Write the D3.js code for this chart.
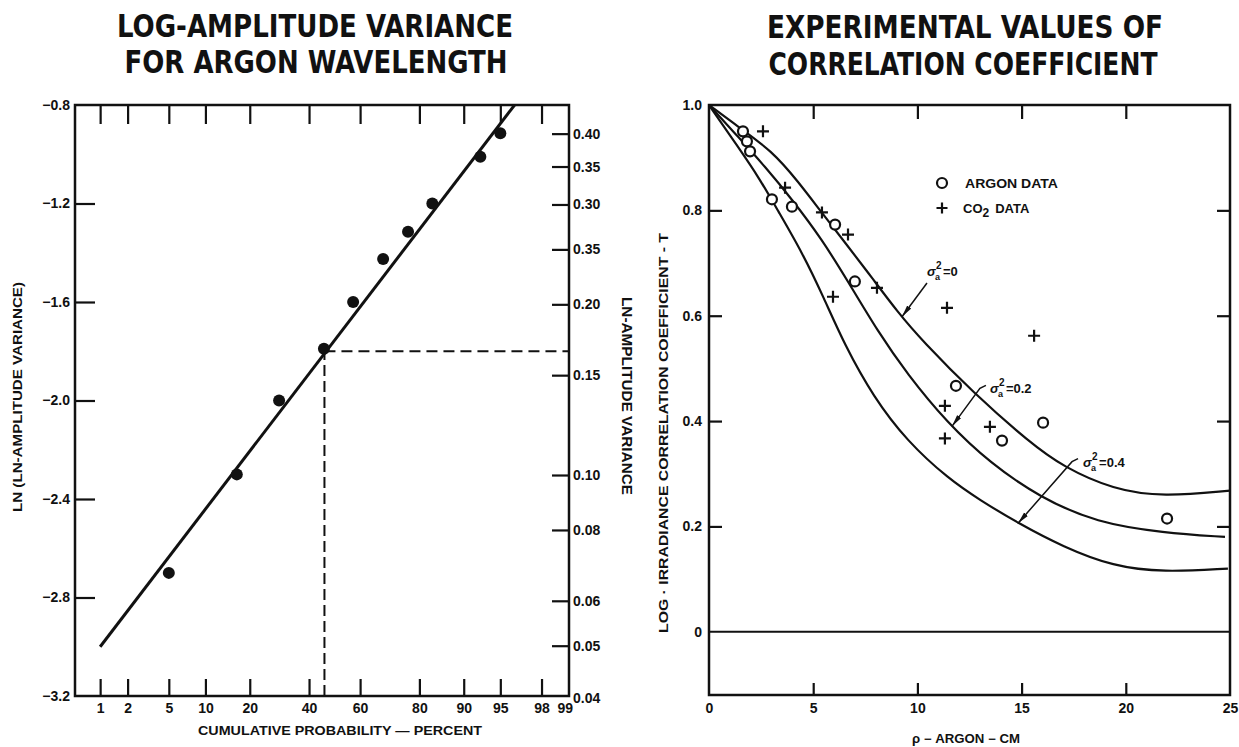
<!DOCTYPE html>
<html>
<head>
<meta charset="utf-8">
<script src="https://cdn.jsdelivr.net/npm/d3@7"></script>
<style>
  body { margin: 0; background: #fff; }
  svg { display: block; font-family: "Liberation Sans", "DejaVu Sans", sans-serif; }
  .tick text { font-weight: bold; fill: #111; }
  .title { font-family: "Liberation Sans Narrow", "DejaVu Sans Condensed", sans-serif; font-weight: bold; font-stretch: condensed; fill: #111; }
  .lab { font-weight: bold; fill: #111; }
</style>
</head>
<body>
<svg id="chart" width="1239" height="747"></svg>
<script>
// ---- left panel: log-amplitude variance vs cumulative probability ----
const probTicks = [1, 2, 5, 10, 20, 40, 60, 80, 90, 95, 98, 99];
const lnTicks = [-0.8, -1.2, -1.6, -2.0, -2.4, -2.8, -3.2];
const varTicks = [0.40, 0.35, 0.30, 0.25, 0.20, 0.15, 0.10, 0.08, 0.06, 0.05, 0.04];
const varLabels = ['0.40', '0.35', '0.30', '0.35', '0.20', '0.15', '0.10', '0.08', '0.06', '0.05', '0.04'];
const argonProb = [5, 16.6, 29.1, 45.8, 57.3, 68.5, 76.7, 83.4, 92.6, 95.0];
const argonLnVar = [-2.70, -2.30, -2.00, -1.79, -1.60, -1.425, -1.315, -1.20, -1.01, -0.915];
const fitProb = [1, 96.3];
const fitLnVar = [-3.0, -0.8];
const medianProb = 46;
const medianLnVar = -1.8;

// ---- right panel: correlation coefficient vs separation ----
const rhoTicks = [0, 5, 10, 15, 20, 25];
const corrTicks = [1.0, 0.8, 0.6, 0.4, 0.2, 0];
const corrLabels = ['1.0', '0.8', '0.6', '0.4', '0.2', '0'];
const sig0Rho = [0, 1.39, 3.02, 4.27, 5.42, 6.53, 7.82, 9.07, 10.22, 12.67, 15.4, 17.0, 19.4, 21.8, 25];
const sig0T = [1.0, 0.959, 0.913, 0.855, 0.795, 0.739, 0.672, 0.606, 0.553, 0.454, 0.359, 0.313, 0.270, 0.256, 0.268];
const sig02Rho = [0, 1.39, 2.69, 3.98, 5.42, 6.67, 8.1, 9.5, 11.42, 13.5, 15.88, 18.6, 21.8, 24.76];
const sig02T = [1.0, 0.94, 0.883, 0.821, 0.745, 0.665, 0.57, 0.49, 0.397, 0.32, 0.255, 0.207, 0.188, 0.180];
const sig04Rho = [0, 1.4, 2.4, 3.3, 4.5, 5.5, 6.5, 7.9, 9.5, 11.5, 13.0, 14.8, 17.0, 19.4, 21.8, 24.9];
const sig04T = [1.0, 0.92, 0.862, 0.80, 0.718, 0.635, 0.545, 0.445, 0.362, 0.29, 0.25, 0.207, 0.161, 0.124, 0.113, 0.12];
const argonRho = [1.63, 1.82, 1.97, 3.02, 3.98, 6.05, 7.0, 11.85, 14.06, 16.03, 21.98];
const argonT = [0.950, 0.931, 0.912, 0.821, 0.807, 0.773, 0.665, 0.467, 0.363, 0.397, 0.215];
const co2Rho = [2.59, 3.65, 5.42, 6.67, 8.06, 5.95, 11.42, 15.6, 11.32, 13.48, 11.32];
const co2T = [0.950, 0.843, 0.796, 0.754, 0.653, 0.636, 0.615, 0.562, 0.429, 0.389, 0.367];
const sigLabels = ['=0', '=0.2', '=0.4'];
const sigTextRho = [10.46, 13.48, 17.95];
const sigTextT = [0.676, 0.454, 0.313];
const sigFromRho = [10.46, 13.0, 17.42];
const sigFromT = [0.662, 0.462, 0.323];
const sigToRho = [9.26, 11.66, 14.83];
const sigToT = [0.598, 0.39, 0.206];

function probit(p) {
  const a = [-3.969683028665376e+01, 2.209460984245205e+02, -2.759285104469687e+02, 1.383577518672690e+02, -3.066479806614716e+01, 2.506628277459239e+00];
  const b = [-5.447609879822406e+01, 1.615858368580409e+02, -1.556989798598866e+02, 6.680131188771972e+01, -1.328068155288572e+01];
  const c = [-7.784894002430293e-03, -3.223964580411365e-01, -2.400758277161838e+00, -2.549732539343734e+00, 4.374664141464968e+00, 2.938163982698783e+00];
  const d = [7.784695709041462e-03, 3.224671290700398e-01, 2.445134137142996e+00, 3.754408661907416e+00];
  const pl = 0.02425;
  let q, r;
  if (p < pl) {
    q = Math.sqrt(-2 * Math.log(p));
    return (((((c[0] * q + c[1]) * q + c[2]) * q + c[3]) * q + c[4]) * q + c[5]) / ((((d[0] * q + d[1]) * q + d[2]) * q + d[3]) * q + 1);
  }
  if (p > 1 - pl) {
    q = Math.sqrt(-2 * Math.log(1 - p));
    return -(((((c[0] * q + c[1]) * q + c[2]) * q + c[3]) * q + c[4]) * q + c[5]) / ((((d[0] * q + d[1]) * q + d[2]) * q + d[3]) * q + 1);
  }
  q = p - 0.5;
  r = q * q;
  return (((((a[0] * r + a[1]) * r + a[2]) * r + a[3]) * r + a[4]) * r + a[5]) * q / (((((b[0] * r + b[1]) * r + b[2]) * r + b[3]) * r + b[4]) * r + 1);
}

const ink = '#111';
const svg = d3.select('#chart');

// ================= LEFT PANEL =================
const mL = { left: 75, right: 569, top: 105, bottom: 696 };
const zScale = d3.scaleLinear().domain([probit(0.005), probit(0.99)]).range([mL.left, mL.right]);
const xL = p => zScale(probit(p / 100));
const yL = d3.scaleLinear().domain([-3.2, -0.8]).range([mL.bottom, mL.top]);

const left = svg.append('g');

left.append('text').attr('class', 'title').attr('x', 315).attr('y', 37)
  .attr('text-anchor', 'middle').attr('font-size', 32)
  .attr('textLength', 396).attr('lengthAdjust', 'spacingAndGlyphs')
  .text('LOG-AMPLITUDE VARIANCE');
left.append('text').attr('class', 'title').attr('x', 316).attr('y', 73)
  .attr('text-anchor', 'middle').attr('font-size', 32)
  .attr('textLength', 383).attr('lengthAdjust', 'spacingAndGlyphs')
  .text('FOR ARGON WAVELENGTH');

const zTicks = probTicks.map(p => probit(p / 100));

const xAxisL = left.append('g').attr('transform', `translate(0, ${mL.bottom})`)
  .call(d3.axisBottom(zScale).tickValues(zTicks).tickFormat((d, i) => probTicks[i])
    .tickSizeInner(-17).tickSizeOuter(0).tickPadding(7));
const xAxisLTop = left.append('g').attr('transform', `translate(0, ${mL.top})`)
  .call(d3.axisTop(zScale).tickValues(zTicks.slice(0, -1)).tickFormat('')
    .tickSizeInner(-19).tickSizeOuter(0));
const yAxisL = left.append('g').attr('transform', `translate(${mL.left}, 0)`)
  .call(d3.axisLeft(yL).tickValues(lnTicks).tickFormat(d3.format('.1f'))
    .tickSizeInner(-20).tickSizeOuter(0).tickPadding(5));
const yAxisLRight = left.append('g').attr('transform', `translate(${mL.right}, 0)`)
  .call(d3.axisRight(yL).tickValues(varTicks.map(v => Math.log(v))).tickFormat((d, i) => varLabels[i])
    .tickSizeInner(-17).tickSizeOuter(0).tickPadding(4));

[xAxisL, xAxisLTop, yAxisL, yAxisLRight].forEach(g => {
  g.select('.domain').remove();
  g.selectAll('.tick line').attr('stroke', ink).attr('stroke-width', 2.2);
  g.selectAll('.tick text').attr('font-size', 14);
});
// corner ticks sit on the frame
yAxisL.selectAll('.tick line').filter(d => d === -0.8 || d === -3.2).remove();
yAxisLRight.selectAll('.tick line').filter((d, i) => i === varTicks.length - 1).remove();
yAxisLRight.selectAll('.tick text').filter((d, i) => i === varTicks.length - 1).attr('dy', '0.1em');
xAxisL.selectAll('.tick line').filter((d, i) => i === probTicks.length - 1).remove();
xAxisL.selectAll('.tick text').filter((d, i) => i === probTicks.length - 1).attr('dx', '-0.3em');

left.append('rect').attr('x', mL.left).attr('y', mL.top)
  .attr('width', mL.right - mL.left).attr('height', mL.bottom - mL.top)
  .attr('fill', 'none').attr('stroke', ink).attr('stroke-width', 2.5);

// median guide lines
left.append('path')
  .attr('d', `M${xL(medianProb)},${yL(-3.2)}V${yL(medianLnVar)}`)
  .attr('fill', 'none').attr('stroke', ink).attr('stroke-width', 2).attr('stroke-dasharray', '11,5');
left.append('path')
  .attr('d', `M${xL(medianProb)},${yL(medianLnVar)}H${mL.right}`)
  .attr('fill', 'none').attr('stroke', ink).attr('stroke-width', 2).attr('stroke-dasharray', '11,6');

// fitted line
const fitLine = d3.line().x(d => xL(d[0])).y(d => yL(d[1]));
left.append('path').datum(d3.zip(fitProb, fitLnVar))
  .attr('d', fitLine).attr('fill', 'none').attr('stroke', ink).attr('stroke-width', 3);

left.selectAll('circle.pt').data(d3.zip(argonProb, argonLnVar)).enter()
  .append('circle').attr('class', 'pt')
  .attr('cx', d => xL(d[0])).attr('cy', d => yL(d[1])).attr('r', 6)
  .attr('fill', ink);

left.append('text').attr('class', 'lab').attr('x', 340).attr('y', 735)
  .attr('text-anchor', 'middle').attr('font-size', 13)
  .attr('textLength', 284).attr('lengthAdjust', 'spacingAndGlyphs')
  .text('CUMULATIVE PROBABILITY \u2014 PERCENT');
left.append('text').attr('class', 'lab').attr('transform', 'translate(22, 397) rotate(-90)')
  .attr('text-anchor', 'middle').attr('font-size', 13)
  .attr('textLength', 230).attr('lengthAdjust', 'spacingAndGlyphs')
  .text('LN (LN-AMPLITUDE VARIANCE)');
left.append('text').attr('class', 'lab').attr('transform', 'translate(622, 396) rotate(90)')
  .attr('text-anchor', 'middle').attr('font-size', 14)
  .attr('textLength', 198).attr('lengthAdjust', 'spacingAndGlyphs')
  .text('LN-AMPLITUDE VARIANCE');

// ================= RIGHT PANEL =================
const mR = { left: 709, right: 1230, top: 105, bottom: 695 };
const xR = d3.scaleLinear().domain([0, 25]).range([mR.left, mR.right]);
const yR = d3.scaleLinear().domain([-0.12, 1.0]).range([mR.bottom, mR.top]);

const right = svg.append('g');

right.append('text').attr('class', 'title').attr('x', 965).attr('y', 38)
  .attr('text-anchor', 'middle').attr('font-size', 32)
  .attr('textLength', 396).attr('lengthAdjust', 'spacingAndGlyphs')
  .text('EXPERIMENTAL VALUES OF');
right.append('text').attr('class', 'title').attr('x', 963).attr('y', 75)
  .attr('text-anchor', 'middle').attr('font-size', 32)
  .attr('textLength', 389).attr('lengthAdjust', 'spacingAndGlyphs')
  .text('CORRELATION COEFFICIENT');

const innerRho = rhoTicks.slice(1, -1);
const innerCorr = corrTicks.slice(1, -1);
const xAxisR = right.append('g').attr('transform', `translate(0, ${mR.bottom})`)
  .call(d3.axisBottom(xR).tickValues(rhoTicks).tickFormat(d3.format('d'))
    .tickSizeInner(-12).tickSizeOuter(0).tickPadding(8));
const xAxisRTop = right.append('g').attr('transform', `translate(0, ${mR.top})`)
  .call(d3.axisTop(xR).tickValues(innerRho).tickFormat('').tickSizeInner(-14).tickSizeOuter(0));
const yAxisR = right.append('g').attr('transform', `translate(${mR.left}, 0)`)
  .call(d3.axisLeft(yR).tickValues(corrTicks).tickFormat((d, i) => corrLabels[i])
    .tickSizeInner(-13).tickSizeOuter(0).tickPadding(7));
const yAxisRRight = right.append('g').attr('transform', `translate(${mR.right}, 0)`)
  .call(d3.axisRight(yR).tickValues(innerCorr).tickFormat('').tickSizeInner(-13).tickSizeOuter(0));

[xAxisR, xAxisRTop, yAxisR, yAxisRRight].forEach(g => {
  g.select('.domain').remove();
  g.selectAll('.tick line').attr('stroke', ink).attr('stroke-width', 2.2);
  g.selectAll('.tick text').attr('font-size', 14);
});
xAxisR.selectAll('.tick line').filter(d => d === 0 || d === 25).remove();
yAxisR.selectAll('.tick line').filter(d => d === 0 || d === 1).remove();

right.append('rect').attr('x', mR.left).attr('y', mR.top)
  .attr('width', mR.right - mR.left).attr('height', mR.bottom - mR.top)
  .attr('fill', 'none').attr('stroke', ink).attr('stroke-width', 2.5);

// zero line
right.append('line').attr('x1', mR.left).attr('x2', mR.right)
  .attr('y1', yR(0)).attr('y2', yR(0)).attr('stroke', ink).attr('stroke-width', 2);

const curve = d3.line().x(d => xR(d[0])).y(d => yR(d[1])).curve(d3.curveBasis);
[[sig0Rho, sig0T], [sig02Rho, sig02T], [sig04Rho, sig04T]].forEach(([xs, ys]) => {
  right.append('path').datum(d3.zip(xs, ys))
    .attr('d', curve).attr('fill', 'none').attr('stroke', ink).attr('stroke-width', 2.2);
});

right.selectAll('circle.ar').data(d3.zip(argonRho, argonT)).enter()
  .append('circle').attr('class', 'ar')
  .attr('cx', d => xR(d[0])).attr('cy', d => yR(d[1])).attr('r', 5)
  .attr('fill', '#fff').attr('stroke', ink).attr('stroke-width', 2.2);

const plus = (x, y, s) => `M${x - s},${y}H${x + s}M${x},${y - s}V${y + s}`;
right.selectAll('path.co2').data(d3.zip(co2Rho, co2T)).enter()
  .append('path').attr('class', 'co2')
  .attr('d', d => plus(xR(d[0]), yR(d[1]), 6))
  .attr('stroke', ink).attr('stroke-width', 2.2);

// legend
right.append('circle').attr('cx', 942).attr('cy', 183).attr('r', 5)
  .attr('fill', '#fff').attr('stroke', ink).attr('stroke-width', 2.2);
right.append('text').attr('class', 'lab').attr('x', 965).attr('y', 188)
  .attr('font-size', 13).attr('textLength', 93).attr('lengthAdjust', 'spacingAndGlyphs')
  .text('ARGON DATA');
right.append('path').attr('d', plus(942, 208, 5.5)).attr('stroke', ink).attr('stroke-width', 2.2);
const co2 = right.append('text').attr('class', 'lab').attr('x', 963).attr('y', 213).attr('font-size', 13);
co2.append('tspan').text('CO');
co2.append('tspan').attr('dy', 4).attr('font-size', 12).text('2');
co2.append('tspan').attr('dy', -4).attr('dx', 6).text('DATA');

// sigma annotations with leader arrows
const defs = svg.append('defs');
defs.append('marker').attr('id', 'dart').attr('viewBox', '0 0 12 6')
  .attr('refX', 12).attr('refY', 3).attr('markerWidth', 12).attr('markerHeight', 6)
  .attr('markerUnits', 'userSpaceOnUse').attr('orient', 'auto')
  .append('path').attr('d', 'M0,0.5 L12,3 L0,5.5 Q-1,3 0,0.5z').attr('fill', ink);

sigLabels.forEach((lab, i) => {
  const fx = xR(sigFromRho[i]), fy = yR(sigFromT[i]);
  const hook = i > 0 ? `M${fx + 6},${fy - 3}L${fx},${fy}` : `M${fx},${fy}`;
  right.append('path')
    .attr('d', `${hook}L${xR(sigToRho[i])},${yR(sigToT[i])}`)
    .attr('fill', 'none').attr('stroke', ink).attr('stroke-width', 1.5)
    .attr('marker-end', 'url(#dart)');
  const tx = xR(sigTextRho[i]), ty = yR(sigTextT[i]);
  const g = right.append('g').attr('class', 'lab');
  g.append('text').attr('x', tx).attr('y', ty).attr('font-size', 13).attr('font-style', 'italic').text('\u03c3');
  g.append('text').attr('x', tx + 9).attr('y', ty - 7).attr('font-size', 10).text('2');
  g.append('text').attr('x', tx + 8).attr('y', ty + 4).attr('font-size', 9).text('a');
  g.append('text').attr('x', tx + 16).attr('y', ty).attr('font-size', 13).text(lab);
});

right.append('text').attr('class', 'lab').attr('x', 966).attr('y', 743)
  .attr('text-anchor', 'middle').attr('font-size', 12)
  .attr('textLength', 108).attr('lengthAdjust', 'spacingAndGlyphs')
  .text('\u03c1 \u2212 ARGON \u2212 CM');
right.append('text').attr('class', 'lab').attr('transform', 'translate(668, 433) rotate(-90)')
  .attr('text-anchor', 'middle').attr('font-size', 13)
  .attr('textLength', 400).attr('lengthAdjust', 'spacingAndGlyphs')
  .text('LOG \u00b7 IRRADIANCE CORRELATION COEFFICIENT - T');
</script>
</body>
</html>
